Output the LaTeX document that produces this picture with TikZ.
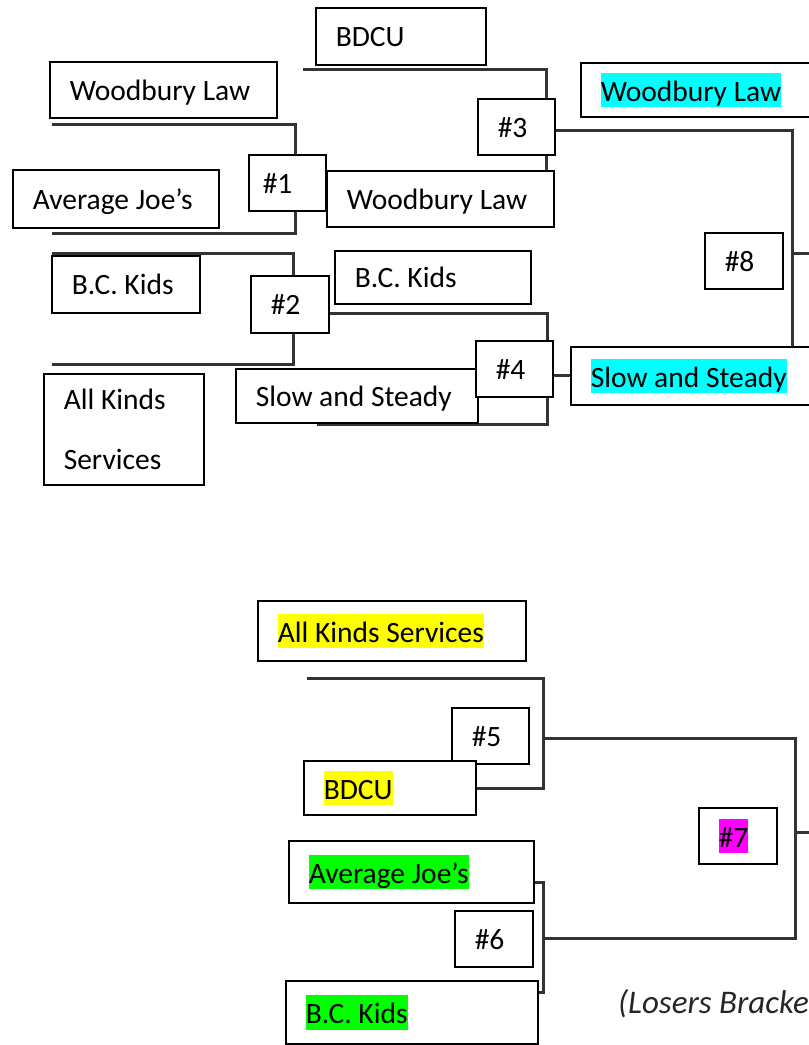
\documentclass[tikz,border=0pt]{standalone}
\usepackage{fontspec}
\setmainfont{Carlito}
\usetikzlibrary{backgrounds}
\definecolor{hlcyan}{RGB}{0,255,255}
\definecolor{hlyellow}{RGB}{255,255,0}
\definecolor{hlgreen}{RGB}{0,255,0}
\definecolor{hlmagenta}{RGB}{255,0,255}
\newcommand\teamfont{\fontsize{29.5pt}{35.4pt}\selectfont}
\newcommand\boxstrut{\rule[-6pt]{0pt}{33pt}}
\newcommand\hlt[2]{{\setlength{\fboxsep}{0pt}\colorbox{#1}{\rule[-6pt]{0pt}{34.5pt}#2}}}

\begin{document}
\begin{tikzpicture}[x=1pt,y=-1pt,
  box/.style={draw,line width=1.5pt,fill=white,anchor=north west,inner xsep=20pt,inner ysep=0pt,
    align=flush left,font=\teamfont,execute at begin node={\noindent\boxstrut}},
  team/.style 2 args={box,text width=#1,minimum height=#2},
  bracket/.style={line width=3pt,draw=black!80}]%
  \useasboundingbox (0,0) rectangle (809,1045);
  \clip (0,0) rectangle (809,1045);
  \node[team={130pt}{57pt}] (bdcuA) at (315,7) {BDCU};
  \node[team={187pt}{56pt}] (wlA) at (49,61) {Woodbury Law};
  \node[team={166pt}{58pt}] (ajA) at (12,169) {Average Joe’s};
  \node[team={49pt}{56pt},inner xsep=14pt] (g1) at (248,154) {\#1};
  \node[team={187pt}{56pt}] (wlB) at (326,170) {Woodbury Law};
  \node[team={108pt}{57pt}] (bckA) at (51,255) {B.C. Kids};
  \node[team={38pt}{57pt}] (g2) at (250,275) {\#2};
  \node[team={156pt}{53pt}] (bckB) at (334,250) {B.C. Kids};
  \node[team={120pt}{111pt}] (aksA) at (43,373) {All Kinds\\[24.6pt]Services\boxstrut};
  \node[team={202pt}{54pt}] (sasA) at (235,368) {Slow and Steady};
  \node[team={37pt}{56pt}] (g3) at (477,98) {\#3};
  \node[team={37pt}{56pt}] (g4) at (475,340) {\#4};
  \node[team={210pt}{54pt}] (wlC) at (580,62) {\hlt{hlcyan}{Woodbury Law}};
  \node[team={220pt}{58pt}] (sasB) at (570,346) {\hlt{hlcyan}{Slow and Steady}};
  \node[team={38pt}{56pt}] (g8) at (704,232) {\#8};

  \node[team={228pt}{60pt}] (aksB) at (257,600) {\hlt{hlyellow}{All Kinds Services}};
  \node[team={37pt}{56pt}] (g5) at (451,707) {\#5};
  \node[team={132pt}{54pt}] (bdcuB) at (303,760) {\hlt{hlyellow}{BDCU}};
  \node[team={205pt}{62pt}] (ajB) at (288,840) {\hlt{hlgreen}{Average Joe’s}};
  \node[team={38pt}{56pt}] (g6) at (454,910) {\#6};
  \node[team={212pt}{63pt}] (bckC) at (285,980) {\hlt{hlgreen}{B.C. Kids}};
  \node[team={38pt}{56pt}] (g7) at (698,807) {\hlt{hlmagenta}{\#7}};
  \node[anchor=base west,inner sep=0pt,text=black!85,font=\fontsize{33pt}{39pt}\selectfont\itshape]
    (losers) at (618,1013) {(Losers Bracke};

  \coordinate (m1a) at (52,124);  \coordinate (m1b) at (295,233);
  \coordinate (m2a) at (52,253);  \coordinate (m2b) at (293,364);
  \coordinate (m3a) at (303,69);  \coordinate (m3b) at (546,198);
  \coordinate (m4a) at (328,313); \coordinate (m4b) at (547,424); \coordinate (m4c) at (317,424);
  \coordinate (m8a) at (554,130); \coordinate (m8b) at (792,346); \coordinate (m8c) at (792,253);
  \coordinate (m5a) at (307,678); \coordinate (m5b) at (543,788);
  \coordinate (m6a) at (533,882); \coordinate (m6b) at (543,992);
  \coordinate (m7a) at (543,738); \coordinate (m7b) at (795,938); \coordinate (m7c) at (795,832);
  \begin{scope}[on background layer]
    \draw[bracket] (m1a) -| (m1b) -- (m1a |- m1b);
    \draw[bracket] (m2a) -| (m2b) -- (m2a |- m2b);
    \draw[bracket] (m3a) -| (m3b);
    \draw[bracket] (m4a) -| (m4b) -- (m4c);
    \draw[bracket] (g4.east |- sasB.west) -- (sasB.west);
    \draw[bracket] (m8a) -| (m8b);
    \draw[bracket] (m8c) -- ++(40,0);
    \draw[bracket] (m5a) -| (m5b) -- (bdcuB.east |- m5b);
    \draw[bracket] (m6a) -| (m6b) -- (bckC.east |- m6b);
    \draw[bracket] (m7a) -| (m7b) -- (m7b -| m6b);
    \draw[bracket] (m7c) -- ++(40,0);
  \end{scope}
\end{tikzpicture}
\end{document}
